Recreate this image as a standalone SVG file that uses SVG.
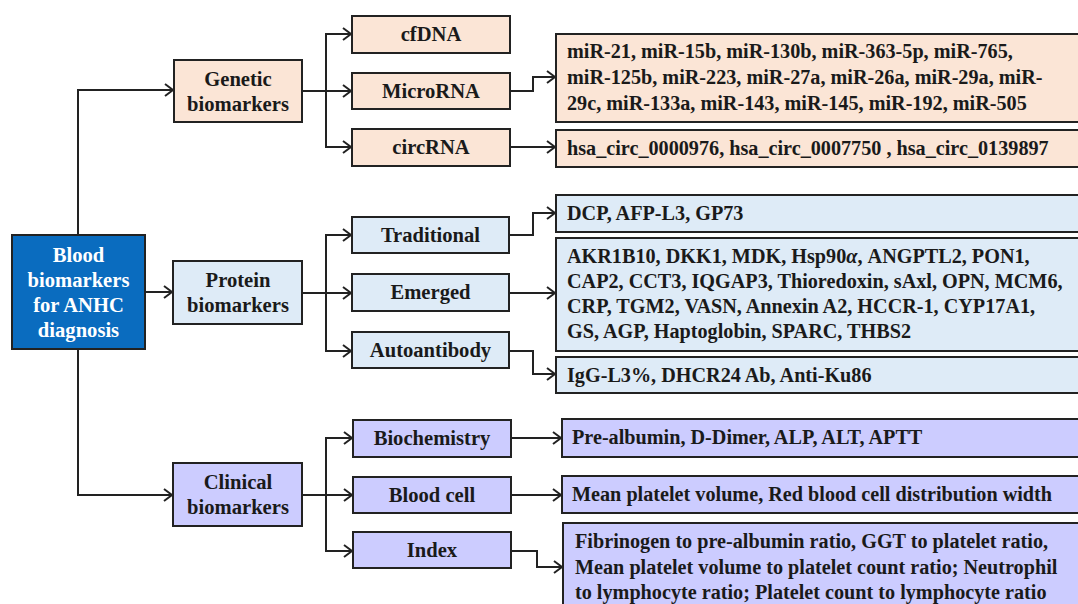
<svg xmlns="http://www.w3.org/2000/svg" width="1078" height="604" viewBox="0 0 1078 604">
<style>
text{font-family:"Liberation Serif","Times New Roman",serif;font-weight:bold;fill:#1a1a1a;}
.c{text-anchor:middle;font-size:20.6px;}
.l{font-size:20.2px;}
.w{fill:#ffffff;}
.box{stroke:#222;stroke-width:2;}
.g{fill:#fbe5d6;}
.p{fill:#deebf7;}
.v{fill:#ccccff;}
.root{fill:#0a6cbf;}
.cn{fill:none;stroke:#222;stroke-width:2;}
</style>
<defs>
<marker id="ah" markerUnits="userSpaceOnUse" markerWidth="12" markerHeight="14" refX="9" refY="7" orient="auto">
<path d="M1,1 L9,7 L1,13" fill="none" stroke="#222" stroke-width="2"/>
</marker>
</defs>
<rect width="1078" height="604" fill="#ffffff"/>
<g id="connectors">
<path class="cn" d="M78,235 V90 H173" marker-end="url(#ah)"/>
<path class="cn" d="M78,349 V495 H172" marker-end="url(#ah)"/>
<path class="cn" d="M145,292 H172" marker-end="url(#ah)"/>
<path class="cn" d="M302,91 H326"/>
<path class="cn" d="M326,91 V34 H351" marker-end="url(#ah)"/>
<path class="cn" d="M326,91 H351" marker-end="url(#ah)"/>
<path class="cn" d="M326,91 V147 H351" marker-end="url(#ah)"/>
<path class="cn" d="M510,91 H533 V77 H555" marker-end="url(#ah)"/>
<path class="cn" d="M510,147 H555" marker-end="url(#ah)"/>
<path class="cn" d="M302,293 H326"/>
<path class="cn" d="M326,293 V235 H351" marker-end="url(#ah)"/>
<path class="cn" d="M326,293 H351" marker-end="url(#ah)"/>
<path class="cn" d="M326,293 V351 H351" marker-end="url(#ah)"/>
<path class="cn" d="M509,235 H533 V213 H555" marker-end="url(#ah)"/>
<path class="cn" d="M509,293 H555" marker-end="url(#ah)"/>
<path class="cn" d="M509,351 H533 V374 H555" marker-end="url(#ah)"/>
<path class="cn" d="M302,495 H326"/>
<path class="cn" d="M326,495 V438 H352" marker-end="url(#ah)"/>
<path class="cn" d="M326,495 H352" marker-end="url(#ah)"/>
<path class="cn" d="M326,495 V551 H352" marker-end="url(#ah)"/>
<path class="cn" d="M511,438 H561" marker-end="url(#ah)"/>
<path class="cn" d="M511,495 H561" marker-end="url(#ah)"/>
<path class="cn" d="M511,551 H537 V567 H562" marker-end="url(#ah)"/>
</g>
<g id="root">
<rect class="box root" x="12" y="235" width="133" height="114"/>
<text class="c w" x="78.5" y="262">Blood</text>
<text class="c w" x="78.5" y="287">biomarkers</text>
<text class="c w" x="78.5" y="312">for ANHC</text>
<text class="c w" x="78.5" y="337">diagnosis</text>
</g>
<g id="genetic">
<rect class="box g" x="174" y="60" width="128" height="62"/>
<text class="c" x="238" y="86">Genetic</text>
<text class="c" x="238" y="111">biomarkers</text>
</g>
<g id="protein">
<rect class="box p" x="173" y="261" width="129" height="63"/>
<text class="c" x="238" y="287">Protein</text>
<text class="c" x="238" y="312">biomarkers</text>
</g>
<g id="clinical">
<rect class="box v" x="173" y="463" width="129" height="63"/>
<text class="c" x="238" y="489">Clinical</text>
<text class="c" x="238" y="514">biomarkers</text>
</g>
<g id="cfdna">
<rect class="box g" x="352" y="16" width="158" height="37"/>
<text class="c" x="431" y="41">cfDNA</text>
</g>
<g id="microrna">
<rect class="box g" x="352" y="73" width="158" height="36"/>
<text class="c" x="431" y="98">MicroRNA</text>
</g>
<g id="circrna">
<rect class="box g" x="352" y="129" width="158" height="37"/>
<text class="c" x="431" y="154">circRNA</text>
</g>
<g id="microrna-list">
<rect class="box g" x="556" y="34" width="530" height="88"/>
<text class="l" x="567" y="58">miR-21, miR-15b, miR-130b, miR-363-5p, miR-765,</text>
<text class="l" x="567" y="84">miR-125b, miR-223, miR-27a, miR-26a, miR-29a, miR-</text>
<text class="l" x="567" y="110">29c, miR-133a, miR-143, miR-145, miR-192, miR-505</text>
</g>
<g id="circrna-list">
<rect class="box g" x="556" y="130" width="530" height="37"/>
<text class="l" x="567" y="155">hsa_circ_0000976, hsa_circ_0007750 , hsa_circ_0139897</text>
</g>
<g id="traditional">
<rect class="box p" x="352" y="217" width="157" height="36"/>
<text class="c" x="430.5" y="242">Traditional</text>
</g>
<g id="emerged">
<rect class="box p" x="352" y="274" width="157" height="37"/>
<text class="c" x="430.5" y="299">Emerged</text>
</g>
<g id="autoantibody">
<rect class="box p" x="352" y="332" width="157" height="36"/>
<text class="c" x="430.5" y="357">Autoantibody</text>
</g>
<g id="traditional-list">
<rect class="box p" x="556" y="195" width="530" height="37"/>
<text class="l" x="567" y="220">DCP, AFP-L3, GP73</text>
</g>
<g id="emerged-list">
<rect class="box p" x="556" y="238" width="530" height="113"/>
<text class="l" x="567" y="263">AKR1B10, DKK1, MDK, Hsp90<tspan font-style="italic">α</tspan>, ANGPTL2, PON1,</text>
<text class="l" x="567" y="288">CAP2, CCT3, IQGAP3, Thioredoxin, sAxl, OPN, MCM6,</text>
<text class="l" x="567" y="313">CRP, TGM2, VASN, Annexin A2, HCCR-1, CYP17A1,</text>
<text class="l" x="567" y="338">GS, AGP, Haptoglobin, SPARC, THBS2</text>
</g>
<g id="autoantibody-list">
<rect class="box p" x="556" y="357" width="530" height="36"/>
<text class="l" x="567" y="382">IgG-L3%, DHCR24 Ab, Anti-Ku86</text>
</g>
<g id="biochemistry">
<rect class="box v" x="353" y="420" width="158" height="37"/>
<text class="c" x="432" y="445">Biochemistry</text>
</g>
<g id="bloodcell">
<rect class="box v" x="353" y="477" width="158" height="36"/>
<text class="c" x="432" y="502">Blood cell</text>
</g>
<g id="index">
<rect class="box v" x="353" y="532" width="158" height="36"/>
<text class="c" x="432" y="557">Index</text>
</g>
<g id="biochemistry-list">
<rect class="box v" x="562" y="419" width="524" height="38"/>
<text class="l" x="572" y="444">Pre-albumin, D-Dimer, ALP, ALT, APTT</text>
</g>
<g id="bloodcell-list">
<rect class="box v" x="562" y="476" width="524" height="37"/>
<text class="l" x="572" y="501">Mean platelet volume, Red blood cell distribution width</text>
</g>
<g id="index-list">
<rect class="box v" x="563" y="523" width="523" height="90"/>
<text class="l" x="575" y="548">Fibrinogen to pre-albumin ratio, GGT to platelet ratio,</text>
<text class="l" x="575" y="574">Mean platelet volume to platelet count ratio; Neutrophil</text>
<text class="l" x="575" y="599">to lymphocyte ratio; Platelet count to lymphocyte ratio</text>
</g>
</svg>
